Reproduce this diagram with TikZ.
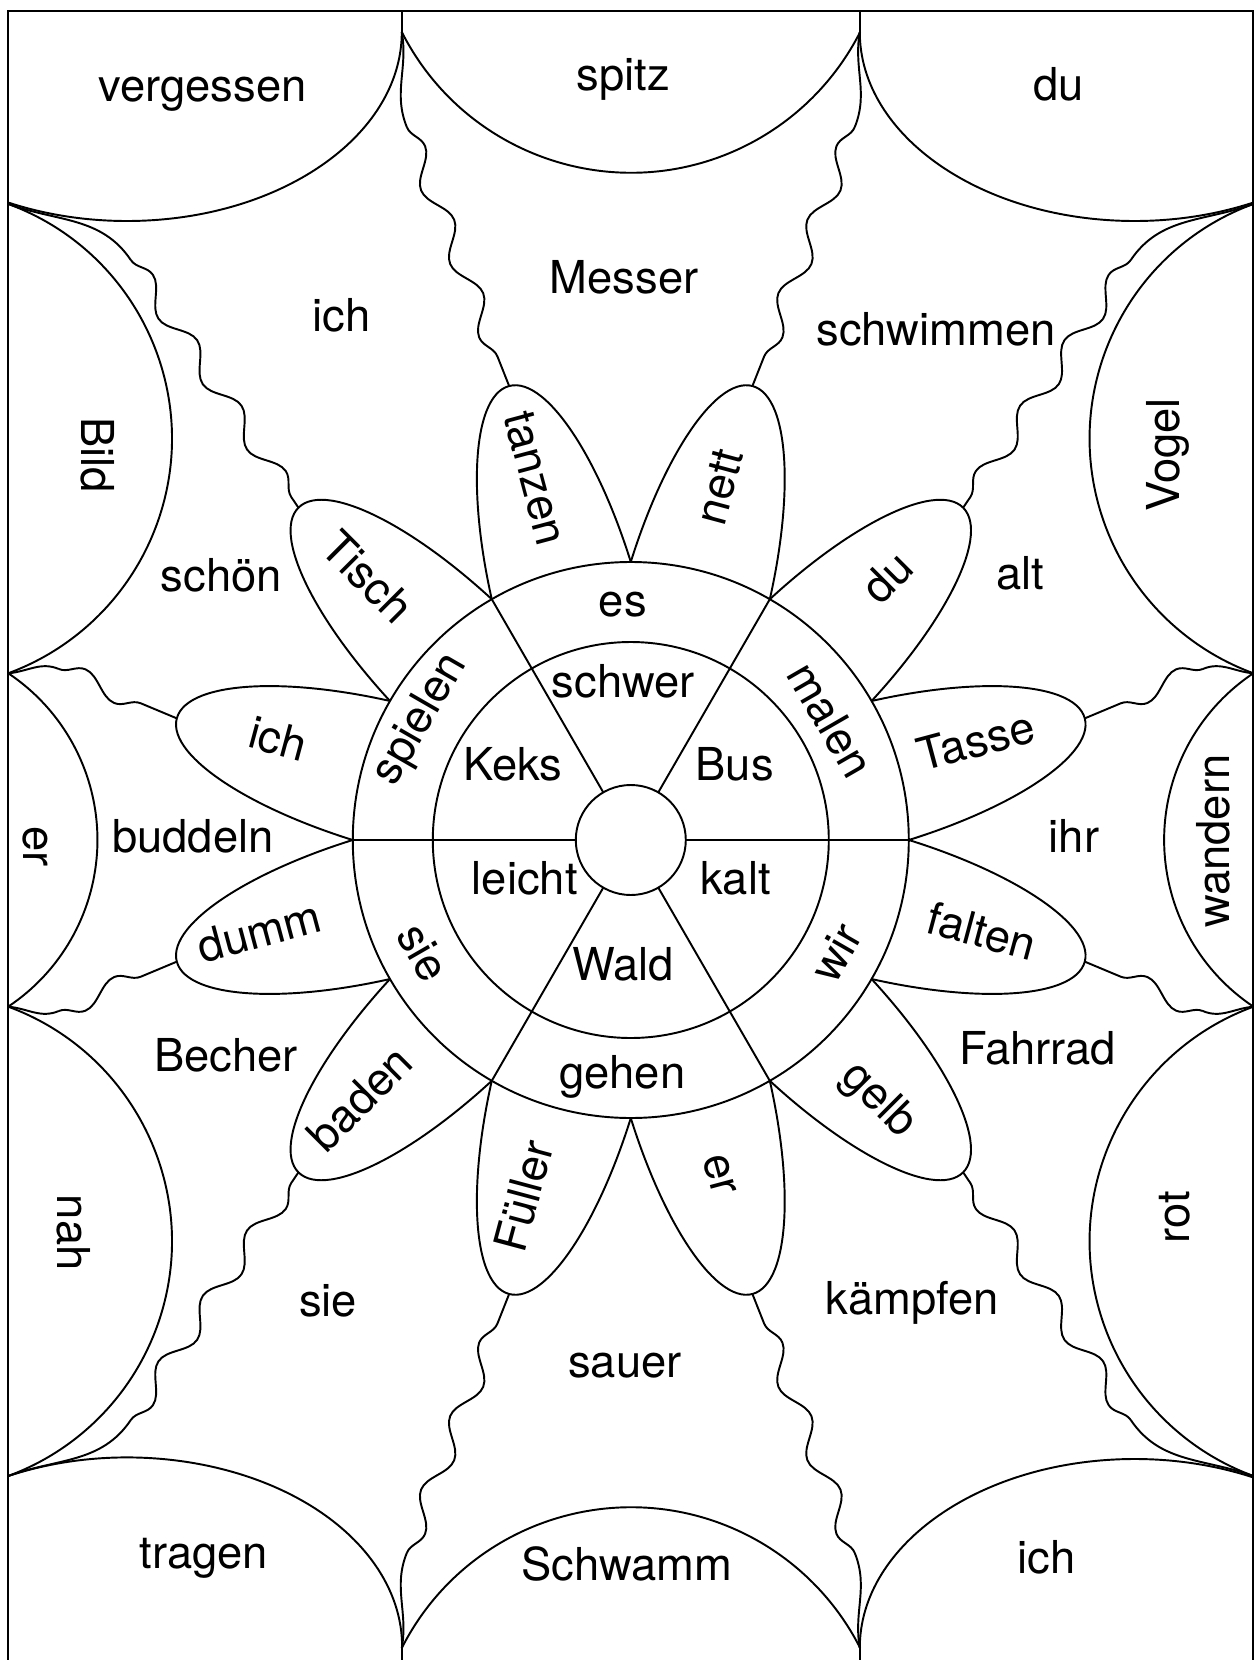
\documentclass[tikz,border=0pt]{standalone}
\usepackage{fontspec}
\setmainfont{TeX Gyre Heros}
\usetikzlibrary{decorations.pathmorphing}

\begin{document}
\begin{tikzpicture}[x=0.1mm, y=0.1mm, line width=0.55pt, font=\fontsize{12.9}{15}\selectfont]
    \tikzset{petal/.style={draw, fill=white},
             wavy/.style={decorate, decoration={snake, segment length=7.9mm, amplitude=1mm}},
             wavy mirrored/.style={decorate, decoration={snake, segment length=7.9mm, amplitude=-1mm}},
             word/.style={inner sep=0pt}}
    \useasboundingbox (-630.8,-820) rectangle (623.2,840);

    % Frame
    \draw (-622.5,-829) rectangle (622.5,829);

    % Junction points on the frame
    \coordinate (jtl) at (-229, 808);
    \coordinate (jtr) at (229, 808);
    \coordinate (jbl) at (-229, -808);
    \coordinate (jbr) at (229, -808);
    \coordinate (kul) at (-622.5, 636);
    \coordinate (kur) at (622.5, 636);
    \coordinate (kll) at (-622.5, -636);
    \coordinate (klr) at (622.5, -636);
    \coordinate (sul) at (-622.5, 166.7);
    \coordinate (sur) at (622.5, 166.7);
    \coordinate (sll) at (-622.5, -166.7);
    \coordinate (slr) at (622.5, -166.7);

    % Short stubs up to the frame
    \draw (jtl) -- (-229, 829);
    \draw (jtr) -- (229, 829);
    \draw (jbl) -- (-229, -829);
    \draw (jbr) -- (229, -829);

    % Top arcs
    \draw (jtl) arc[start angle=0, end angle=-115.6, x radius=275, y radius=189];
    \draw (jtl) arc[start angle=206.9, end angle=333.1, radius=257];
    \draw (jtr) arc[start angle=180, end angle=295.6, x radius=275, y radius=189];

    % Side arcs
    \draw (kul) arc[start angle=69.8, end angle=-69.8, radius=250];
    \draw (sul) arc[start angle=56.3, end angle=-56.3, radius=200.3];
    \draw (sll) arc[start angle=69.8, end angle=-69.8, radius=250];
    \draw (kur) arc[start angle=110.2, end angle=249.8, radius=250];
    \draw (sur) arc[start angle=123.7, end angle=236.3, radius=200.3];
    \draw (slr) arc[start angle=110.2, end angle=249.8, radius=250];

    % Bottom arcs
    \draw (kll) arc[start angle=115.6, end angle=0, x radius=275, y radius=189];
    \draw (jbl) arc[start angle=153.1, end angle=26.9, radius=257];
    \draw (jbr) arc[start angle=180, end angle=64.4, x radius=275, y radius=189];

    % Petal tips
    \coordinate (tip15) at (15:470);
    \coordinate (tip45) at (45:470);
    \coordinate (tip75) at (75:470);
    \coordinate (tip105) at (105:470);
    \coordinate (tip135) at (135:470);
    \coordinate (tip165) at (165:470);
    \coordinate (tip195) at (195:470);
    \coordinate (tip225) at (225:470);
    \coordinate (tip255) at (255:470);
    \coordinate (tip285) at (285:470);
    \coordinate (tip315) at (315:470);
    \coordinate (tip345) at (345:470);

    % Where the waves begin
    \coordinate (ptl) at (-224, 713);
    \coordinate (ptr) at (224, 713);
    \coordinate (pbl) at (-224, -713);
    \coordinate (pbr) at (224, -713);
    \coordinate (pkul) at (-500, 580);
    \coordinate (pkur) at (500, 580);
    \coordinate (pkll) at (-500, -580);
    \coordinate (pklr) at (500, -580);
    \coordinate (psul) at (-572, 171);
    \coordinate (psur) at (572, 171);
    \coordinate (psll) at (-572, -171);
    \coordinate (pslr) at (572, -171);

    % Wavy lines, frame to petal tips
    \draw (jtl) to[out=-80, in=112] (ptl);
    \draw[wavy] (ptl) -- (tip105);
    \draw (jtr) to[out=260, in=68] (ptr);
    \draw[wavy mirrored] (ptr) -- (tip75);
    \draw (jbl) to[out=80, in=-112] (pbl);
    \draw[wavy mirrored] (pbl) -- (tip255);
    \draw (jbr) to[out=100, in=292] (pbr);
    \draw[wavy] (pbr) -- (tip285);

    \draw (kul) to[out=-20, in=124] (pkul);
    \draw[wavy] (pkul) -- (tip135);
    \draw (kur) to[out=200, in=56] (pkur);
    \draw[wavy mirrored] (pkur) -- (tip45);
    \draw (kll) to[out=20, in=-124] (pkll);
    \draw[wavy mirrored] (pkll) -- (tip225);
    \draw (klr) to[out=160, in=304] (pklr);
    \draw[wavy] (pklr) -- (tip315);

    \draw (sul) to[out=5, in=157] (psul);
    \draw[wavy] (psul) -- (tip165);
    \draw (sur) to[out=175, in=23] (psur);
    \draw[wavy mirrored] (psur) -- (tip15);
    \draw (sll) to[out=-5, in=-157] (psll);
    \draw[wavy mirrored] (psll) -- (tip195);
    \draw (slr) to[out=185, in=337] (pslr);
    \draw[wavy] (pslr) -- (tip345);

    % Petals
    \draw[petal, rotate=15] (238,0) ellipse[x radius=232, y radius=72.6];
    \draw[petal, rotate=45] (238,0) ellipse[x radius=232, y radius=72.6];
    \draw[petal, rotate=75] (238,0) ellipse[x radius=232, y radius=72.6];
    \draw[petal, rotate=105] (238,0) ellipse[x radius=232, y radius=72.6];
    \draw[petal, rotate=135] (238,0) ellipse[x radius=232, y radius=72.6];
    \draw[petal, rotate=165] (238,0) ellipse[x radius=232, y radius=72.6];
    \draw[petal, rotate=195] (238,0) ellipse[x radius=232, y radius=72.6];
    \draw[petal, rotate=225] (238,0) ellipse[x radius=232, y radius=72.6];
    \draw[petal, rotate=255] (238,0) ellipse[x radius=232, y radius=72.6];
    \draw[petal, rotate=285] (238,0) ellipse[x radius=232, y radius=72.6];
    \draw[petal, rotate=315] (238,0) ellipse[x radius=232, y radius=72.6];
    \draw[petal, rotate=345] (238,0) ellipse[x radius=232, y radius=72.6];

    % Rings and spokes
    \filldraw[fill=white] (0,0) circle[radius=278];
    \draw (0,0) circle[radius=198];
    \draw (0:55) -- (0:278);
    \draw (60:55) -- (60:278);
    \draw (120:55) -- (120:278);
    \draw (180:55) -- (180:278);
    \draw (240:55) -- (240:278);
    \draw (300:55) -- (300:278);
    \filldraw[fill=white] (0,0) circle[radius=55];

    % Words along the frame
    \node[word] (vergessen) at (-428.3, 745.8) {vergessen};
    \node[word] (spitz) at (-7.5, 760.8) {spitz};
    \node[word] (duTR) at (427.5, 755.5) {du};
    \node[word, rotate=-90] (bild) at (-533.3, 385) {Bild};
    \node[word, rotate=90] (vogel) at (537.2, 385) {Vogel};
    \node[word, rotate=-90] (erLeft) at (-595.8, -6.6) {er};
    \node[word, rotate=90] (wandern) at (583, -1.3) {wandern};
    \node[word, rotate=-90] (nah) at (-556.8, -392.8) {nah};
    \node[word, rotate=90] (rot) at (543.8, -377) {rot};
    \node[word] (tragen) at (-427.1, -718) {tragen};
    \node[word] (schwamm) at (-3.8, -723.5) {Schwamm};
    \node[word] (ichBR) at (415.8, -717) {ich};

    % Words between the waves
    \node[word] (messer) at (-6.6, 562.5) {Messer};
    \node[word] (ichUL) at (-289.1, 524.2) {ich};
    \node[word] (schwimmen) at (305.2, 511) {schwimmen};
    \node[word] (schoen) at (-409.6, 264.4) {schön};
    \node[word] (alt) at (389.3, 266.5) {alt};
    \node[word] (buddeln) at (-437.8, 4) {buddeln};
    \node[word] (ihr) at (443.2, 4) {ihr};
    \node[word] (becher) at (-404.9, -215.6) {Becher};
    \node[word] (fahrrad) at (406.8, -208) {Fahrrad};
    \node[word] (sieLL) at (-302.8, -461) {sie};
    \node[word] (kaempfen) at (281.4, -462.7) {kämpfen};
    \node[word] (sauer) at (-5.8, -525.6) {sauer};

    % Words in the petals
    \node[word, rotate=-75] (tanzen) at (-95.6, 361.7) {tanzen};
    \node[word, rotate=75] (nett) at (88.8, 353) {nett};
    \node[word, rotate=-45] (tisch) at (-263, 263) {Tisch};
    \node[word, rotate=45] (duPetal) at (256, 263) {du};
    \node[word, rotate=-15] (ichPetal) at (-352.5, 101.4) {ich};
    \node[word, rotate=15] (tasse) at (344.9, 99.3) {Tasse};
    \node[word, rotate=15] (dumm) at (-371.5, -91.2) {dumm};
    \node[word, rotate=-15] (falten) at (351.2, -91.2) {falten};
    \node[word, rotate=45] (baden) at (-271, -258.4) {baden};
    \node[word, rotate=-45] (gelb) at (247.5, -260.5) {gelb};
    \node[word, rotate=75] (fueller) at (-107, -355.8) {Füller};
    \node[word, rotate=-75] (erPetal) at (88.8, -334.6) {er};

    % Words in the outer ring
    \node[word] (es) at (-8, 235.2) {es};
    \node[word, rotate=60] (spielen) at (-210, 120.4) {spielen};
    \node[word, rotate=-60] (malen) at (200, 120.4) {malen};
    \node[word, rotate=-60] (sieRing) at (-207.5, -112.4) {sie};
    \node[word, rotate=60] (wir) at (205.2, -112.4) {wir};
    \node[word] (gehen) at (-8.6, -236.8) {gehen};

    % Words in the inner ring
    \node[word] (schwer) at (-7.5, 158.5) {schwer};
    \node[word] (keks) at (-118, 76) {Keks};
    \node[word] (bus) at (104, 76) {Bus};
    \node[word] (leicht) at (-106, -38.7) {leicht};
    \node[word] (kalt) at (104.7, -38.7) {kalt};
    \node[word] (wald) at (-8, -124.6) {Wald};
\end{tikzpicture}
\end{document}
